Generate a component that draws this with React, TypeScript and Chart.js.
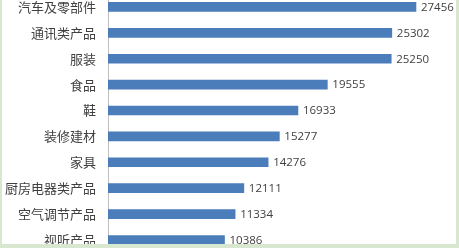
import React, { useEffect, useRef } from "react";
import { Chart, registerables } from "chart.js";

Chart.register(...registerables);

// Export value by product category
const categories = [
  "汽车及零部件",
  "通讯类产品",
  "服装",
  "食品",
  "鞋",
  "装修建材",
  "家具",
  "厨房电器类产品",
  "空气调节产品",
  "视听产品",
];
const values = [27456, 25302, 25250, 19555, 16933, 15277, 14276, 12111, 11334, 10386];
const axisMax = 30000;

const CANVAS_W = 459;
const CANVAS_H = 265;
const AXIS_X = 108;

const valueLabels = {
  id: "valueLabels",
  afterDatasetsDraw(chart: any) {
    const ctx = chart.ctx;
    const meta = chart.getDatasetMeta(0);
    const data = chart.data.datasets[0].data as number[];
    ctx.save();
    ctx.font = "11.5px 'Open Sans'";
    ctx.fillStyle = "#404040";
    ctx.textAlign = "left";
    ctx.textBaseline = "middle";
    meta.data.forEach((bar: any, i: number) => {
      ctx.fillText(String(data[i]), bar.x + 5, bar.y + 0.5);
    });
    ctx.restore();
  },
};

export default function App() {
  const ref = useRef<HTMLCanvasElement>(null);

  useEffect(() => {
    if (!ref.current) return;
    const chart = new Chart(ref.current, {
      type: "bar",
      data: {
        labels: categories,
        datasets: [
          {
            data: values,
            backgroundColor: "#4a7dba",
            barThickness: 9,
          },
        ],
      },
      options: {
        indexAxis: "y",
        responsive: false,
        animation: false,
        devicePixelRatio: 1,
        layout: { padding: { top: 0, bottom: CANVAS_H - 258.9, right: 14.5, left: 0 } },
        plugins: { legend: { display: false }, tooltip: { enabled: false } },
        scales: {
          x: { display: false, min: 0, max: axisMax },
          y: {
            afterFit(scale: any) {
              scale.width = AXIS_X;
              scale.paddingTop = 0;
              scale.paddingBottom = 0;
            },
            grid: { display: false, drawTicks: false },
            border: { display: true, color: "#bfbfbf", width: 1 },
            ticks: {
              padding: 12,
              color: "#404040",
              font: { family: "'Noto Sans CJK SC'", size: 13 },
            },
          },
        },
      },
      plugins: [valueLabels],
    });
    return () => chart.destroy();
  }, []);

  const edge = "#d7e7d0";
  return (
    <div
      style={{
        position: "fixed",
        left: 0,
        top: 0,
        width: 459,
        height: 248,
        overflow: "hidden",
        background: "#ffffff",
      }}
    >
      <canvas
        ref={ref}
        width={CANVAS_W}
        height={CANVAS_H}
        style={{ position: "absolute", left: 0, top: -6, width: CANVAS_W, height: CANVAS_H }}
      />
      <div style={{ position: "absolute", left: 0, top: 0, width: 2, height: 248, background: edge }} />
      <div style={{ position: "absolute", right: 0, top: 0, width: 3, height: 248, background: edge }} />
      <div style={{ position: "absolute", left: 0, bottom: 0, width: 459, height: 4, background: edge }} />
    </div>
  );
}
